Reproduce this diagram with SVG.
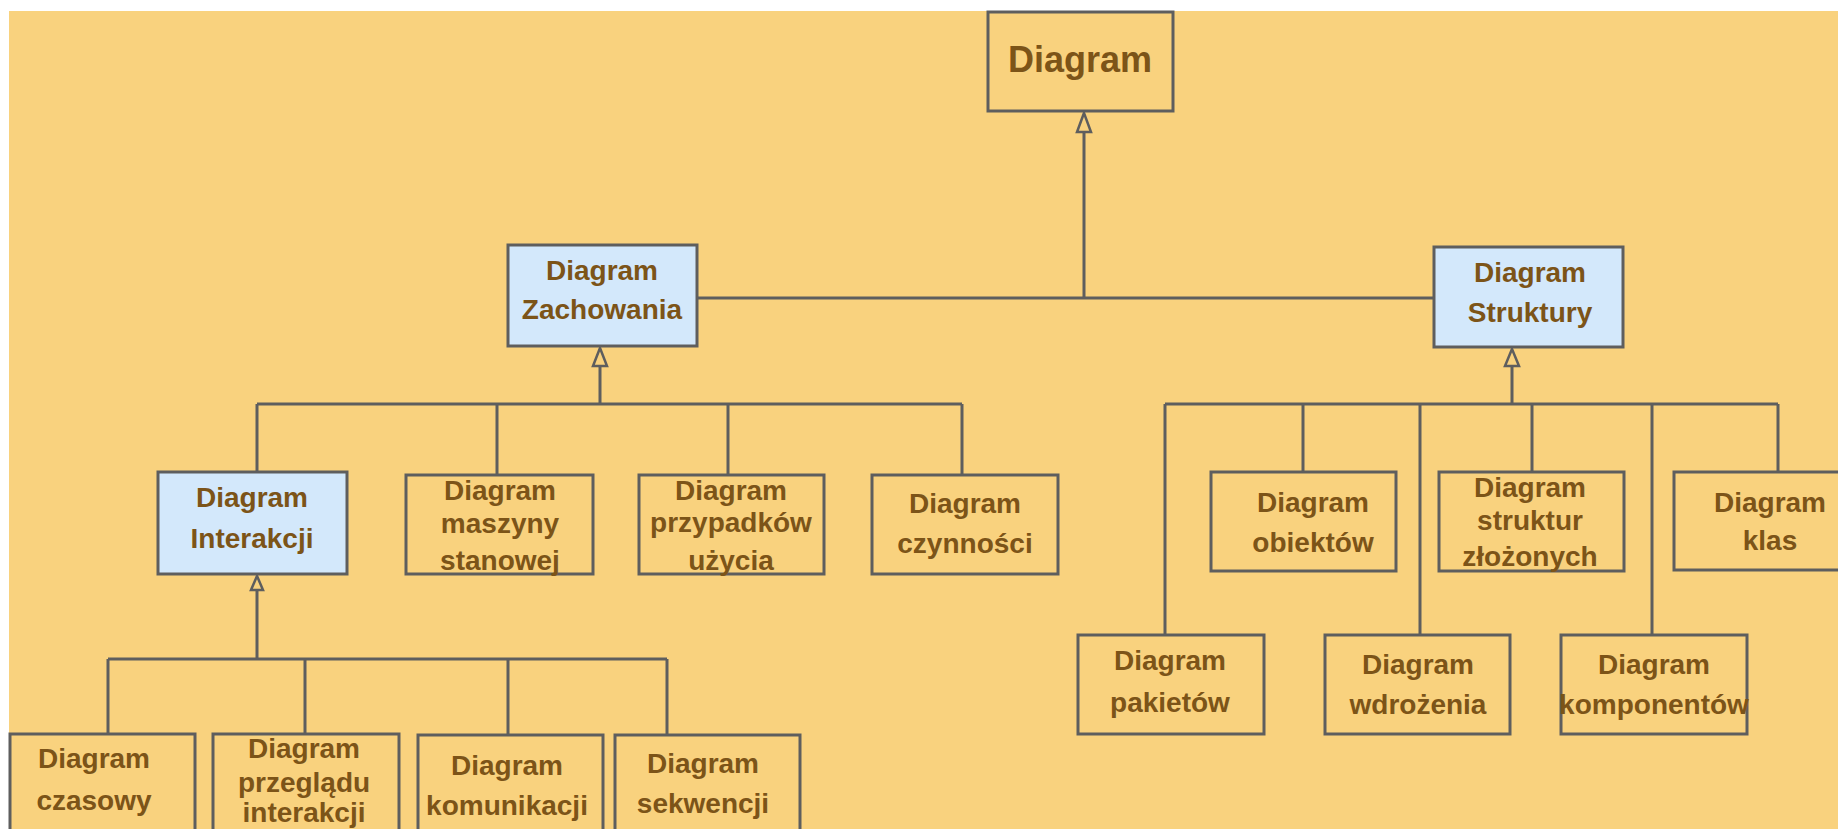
<svg xmlns="http://www.w3.org/2000/svg" width="1838" height="829" viewBox="0 0 1838 829">
<style>
.bg{fill:#F9D27E}
.box{fill:#F9D27E;stroke:#5E5E5E;stroke-width:3}
.blue{fill:#D3E8FB;stroke:#5E5E5E;stroke-width:3}
.t{font-family:"Liberation Sans",Arial,sans-serif;font-weight:bold;font-size:28px;fill:#7C5418;text-anchor:middle}
.big{font-size:36px}
.ln{stroke:#5E5E5E;stroke-width:3;fill:none}
.tri{fill:#F9D27E;stroke:#5E5E5E;stroke-width:2.5}
</style>
<rect x="0" y="0" width="1838" height="829" fill="#FFFFFF"/>
<rect class="bg" x="9" y="11" width="1829" height="818"/>
<g id="connectors">
<path class="ln" d="M1084 132V298M697 298H1434"/>
<path class="ln" d="M600 366V404M257 404H962M257 404V472M497 404V475M728 404V475M962 404V475"/>
<path class="ln" d="M257 590V659M108 659H667M108 659V734M305 659V734M508 659V734M667 659V734"/>
<path class="ln" d="M1512 366V404M1165 404H1778M1165 404V635M1303 404V472M1420 404V635M1532 404V472M1652 404V635M1778 404V472"/>
<polygon class="tri" points="1084,113 1077,132 1091,132"/>
<polygon class="tri" points="600,348 593,366 607,366"/>
<polygon class="tri" points="1512,349 1505,366 1519,366"/>
<polygon class="tri" points="257,576 251,590 263,590"/>
</g>
<g id="diagram"><rect class="box" x="988" y="12" width="185" height="99"/><text class="t big" x="1080" y="72">Diagram</text></g>
<g id="zachowania"><rect class="blue" x="508" y="245" width="189" height="101"/><text class="t" x="602" y="280">Diagram</text><text class="t" x="602" y="319">Zachowania</text></g>
<g id="struktury"><rect class="blue" x="1434" y="247" width="189" height="100"/><text class="t" x="1530" y="282">Diagram</text><text class="t" x="1530" y="322">Struktury</text></g>
<g id="interakcji"><rect class="blue" x="158" y="472" width="189" height="102"/><text class="t" x="252" y="507">Diagram</text><text class="t" x="252" y="548">Interakcji</text></g>
<g id="maszyny"><rect class="box" x="406" y="475" width="187" height="99"/><text class="t" x="500" y="500">Diagram</text><text class="t" x="500" y="533">maszyny</text><text class="t" x="500" y="570">stanowej</text></g>
<g id="przypadkow"><rect class="box" x="639" y="475" width="185" height="99"/><text class="t" x="731" y="500">Diagram</text><text class="t" x="731" y="532">przypadków</text><text class="t" x="731" y="570">użycia</text></g>
<g id="czynnosci"><rect class="box" x="872" y="475" width="186" height="99"/><text class="t" x="965" y="513">Diagram</text><text class="t" x="965" y="553">czynności</text></g>
<g id="obiektow"><rect class="box" x="1211" y="472" width="185" height="99"/><text class="t" x="1313" y="512">Diagram</text><text class="t" x="1313" y="552">obiektów</text></g>
<g id="struktur"><rect class="box" x="1439" y="472" width="185" height="99"/><text class="t" x="1530" y="497">Diagram</text><text class="t" x="1530" y="530">struktur</text><text class="t" x="1530" y="566">złożonych</text></g>
<g id="klas"><rect class="box" x="1674" y="472" width="192" height="98"/><text class="t" x="1770" y="512">Diagram</text><text class="t" x="1770" y="550">klas</text></g>
<g id="pakietow"><rect class="box" x="1078" y="635" width="186" height="99"/><text class="t" x="1170" y="670">Diagram</text><text class="t" x="1170" y="712">pakietów</text></g>
<g id="wdrozenia"><rect class="box" x="1325" y="635" width="185" height="99"/><text class="t" x="1418" y="674">Diagram</text><text class="t" x="1418" y="714">wdrożenia</text></g>
<g id="komponentow"><rect class="box" x="1561" y="635" width="186" height="99"/><text class="t" x="1654" y="674">Diagram</text><text class="t" x="1654" y="714">komponentów</text></g>
<g id="czasowy"><rect class="box" x="10" y="734" width="185" height="102"/><text class="t" x="94" y="768">Diagram</text><text class="t" x="94" y="810">czasowy</text></g>
<g id="przegladu"><rect class="box" x="213" y="734" width="186" height="102"/><text class="t" x="304" y="758">Diagram</text><text class="t" x="304" y="792">przeglądu</text><text class="t" x="304" y="822">interakcji</text></g>
<g id="komunikacji"><rect class="box" x="418" y="735" width="185" height="102"/><text class="t" x="507" y="775">Diagram</text><text class="t" x="507" y="815">komunikacji</text></g>
<g id="sekwencji"><rect class="box" x="615" y="735" width="185" height="102"/><text class="t" x="703" y="773">Diagram</text><text class="t" x="703" y="813">sekwencji</text></g>
</svg>
